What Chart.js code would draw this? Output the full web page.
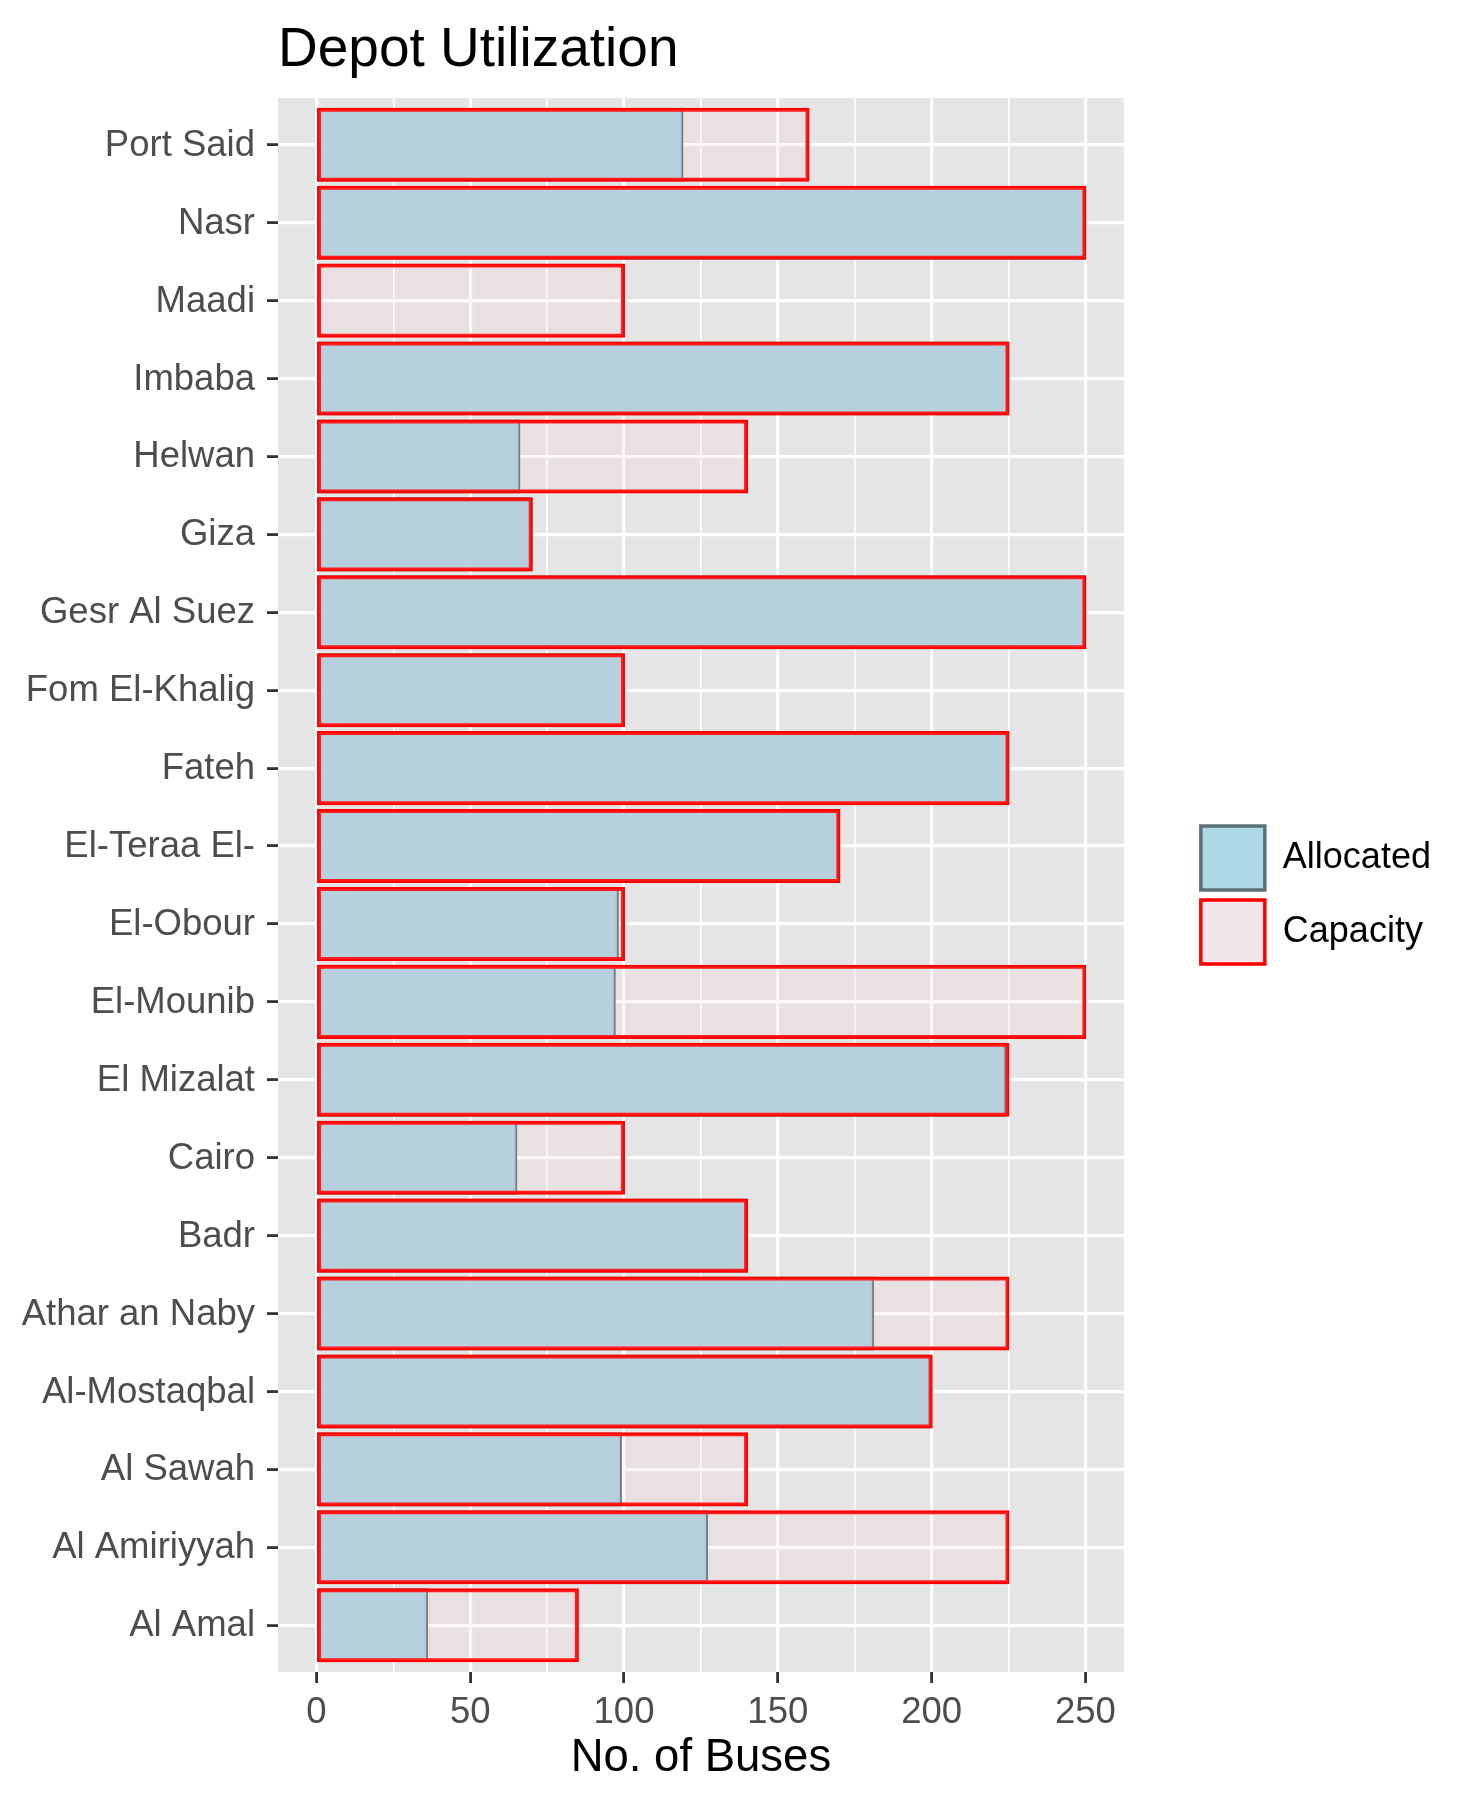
<!DOCTYPE html>
<html>
<head>
<meta charset="utf-8">
<title>Depot Utilization</title>
<script src="https://cdn.jsdelivr.net/npm/chart.js@4.4.1/dist/chart.umd.min.js"></script>
<style>
  html, body { margin: 0; padding: 0; background: #ffffff; }
</style>
</head>
<body>
<canvas id="depotChart" width="1483" height="1804"></canvas>
<script>
// depots, top to bottom as in the picture
const depots = [
  "Port Said", "Nasr", "Maadi", "Imbaba", "Helwan", "Giza", "Gesr Al Suez",
  "Fom El-Khalig", "Fateh", "El-Teraa El-", "El-Obour", "El-Mounib",
  "El Mizalat", "Cairo", "Badr", "Athar an Naby", "Al-Mostaqbal",
  "Al Sawah", "Al Amiriyyah", "Al Amal"
];
const allocated = [119, 250, 0, 225, 66, 70, 250, 100, 225, 170, 98, 97, 224, 65, 140, 181, 200, 99, 127, 36];
const capacity = [160, 250, 100, 225, 140, 70, 250, 100, 225, 170, 100, 250, 225, 100, 140, 225, 200, 140, 225, 85];

// x ticks: labelled every 50, minor grid every 25
const xTicks = [0, 25, 50, 75, 100, 125, 150, 175, 200, 225, 250];
const xLabelStep = 50;

const legendFill = ["#add8e6", "#f0e6ea"];

Chart.defaults.font.family = "'Liberation Sans', Arial, sans-serif";

// grey panel behind the plot area
const panelBg = {
  id: "panelBg",
  beforeDraw(chart) {
    const { ctx, chartArea: a } = chart;
    ctx.save();
    ctx.fillStyle = "#ffffff";
    ctx.fillRect(0, 0, chart.width, chart.height);
    ctx.fillStyle = "#e5e5e5";
    ctx.fillRect(a.left, a.top, a.right - a.left, a.bottom - a.top);
    ctx.restore();
  },
};

const isMajor = (c) => c.tick && c.tick.value % xLabelStep === 0;

// depots sit at 0..19 on a numeric axis, so the panel keeps ggplot's 0.6 padding
const toPoints = (values) => values.map((v, i) => ({ x: v, y: i }));

const ctx = document.getElementById("depotChart").getContext("2d");
const depotChart = new Chart(ctx, {
  type: "bar",
  data: {
    datasets: [
      {
        label: "Allocated",
        data: toPoints(allocated),
        yAxisID: "y",
        backgroundColor: "rgba(168, 210, 226, 0.95)",
        borderColor: "#5d7179",
        borderWidth: 2,
        borderSkipped: false,
        inflateAmount: 1,
        order: 2,
      },
      {
        label: "Capacity",
        data: toPoints(capacity),
        yAxisID: "y",
        backgroundColor: "rgba(255, 192, 203, 0.15)",
        borderColor: "#ff0000",
        borderWidth: 2,
        borderSkipped: false,
        inflateAmount: 1,
        order: 1,
      },
    ],
  },
  options: {
    indexAxis: "y",
    responsive: false,
    animation: false,
    grouped: false,
    barPercentage: 0.925,
    categoryPercentage: 1.0,
    layout: { padding: { top: 0, left: 0, right: 54, bottom: 14 } },
    scales: {
      x: {
        type: "linear",
        min: -12.5,
        max: 262.5,
        afterBuildTicks: (s) => {
          s.ticks = xTicks.map((v) => ({ value: v }));
        },
        afterFit: (s) => {
          s.height = 118;
        },
        border: { display: false },
        grid: {
          color: "#ffffff",
          lineWidth: (c) => (isMajor(c) ? 3.2 : 1.6),
          tickColor: (c) => (isMajor(c) ? "#333333" : "rgba(0,0,0,0)"),
          tickLength: 11,
          tickWidth: 2.8,
        },
        ticks: {
          color: "#4d4d4d",
          font: { size: 36.5 },
          padding: 8,
          maxRotation: 0,
          autoSkip: false,
          callback: (v) => (v % xLabelStep === 0 ? v : ""),
        },
        title: {
          display: true,
          text: "No. of Buses",
          color: "#000000",
          font: { size: 45.5 },
          padding: { top: 0, bottom: 4 },
        },
      },
      y: {
        type: "linear",
        min: -0.6,
        max: depots.length - 0.4,
        reverse: true,
        offset: false,
        afterBuildTicks: (s) => {
          s.ticks = depots.map((d, i) => ({ value: i }));
        },
        afterFit: (s) => {
          s.width = 278;
        },
        border: { display: false },
        grid: {
          offset: false,
          color: "#ffffff",
          lineWidth: 3.2,
          tickColor: "#333333",
          tickLength: 11,
          tickWidth: 2.8,
        },
        ticks: {
          color: "#4d4d4d",
          font: { size: 36.5 },
          padding: 12,
          labelOffset: 1,
          autoSkip: false,
          callback: (v) => depots[v],
        },
      },
      // empty gap between the panel and the legend
      gap: {
        type: "linear",
        position: "right",
        afterFit: (s) => {
          s.width = 67;
        },
        border: { display: false },
        grid: { display: false },
        ticks: { display: false },
      },
    },
    plugins: {
      title: {
        display: true,
        text: "Depot Utilization",
        align: "start",
        fullSize: false,
        color: "#000000",
        font: { size: 55, weight: "normal" },
        padding: { top: 18, bottom: 14 },
      },
      legend: {
        position: "right",
        align: "center",
        labels: {
          boxWidth: 64,
          boxHeight: 64,
          padding: 10,
          color: "#000000",
          font: { size: 36 },
          sort: (a, b) => a.datasetIndex - b.datasetIndex,
          generateLabels: (chart) => {
            const items = Chart.defaults.plugins.legend.labels.generateLabels(chart);
            items.forEach((it) => {
              it.fillStyle = legendFill[it.datasetIndex];
              it.lineWidth = 3.5;
            });
            return items;
          },
        },
      },
      tooltip: { enabled: false },
    },
  },
  plugins: [panelBg],
});
</script>
</body>
</html>
